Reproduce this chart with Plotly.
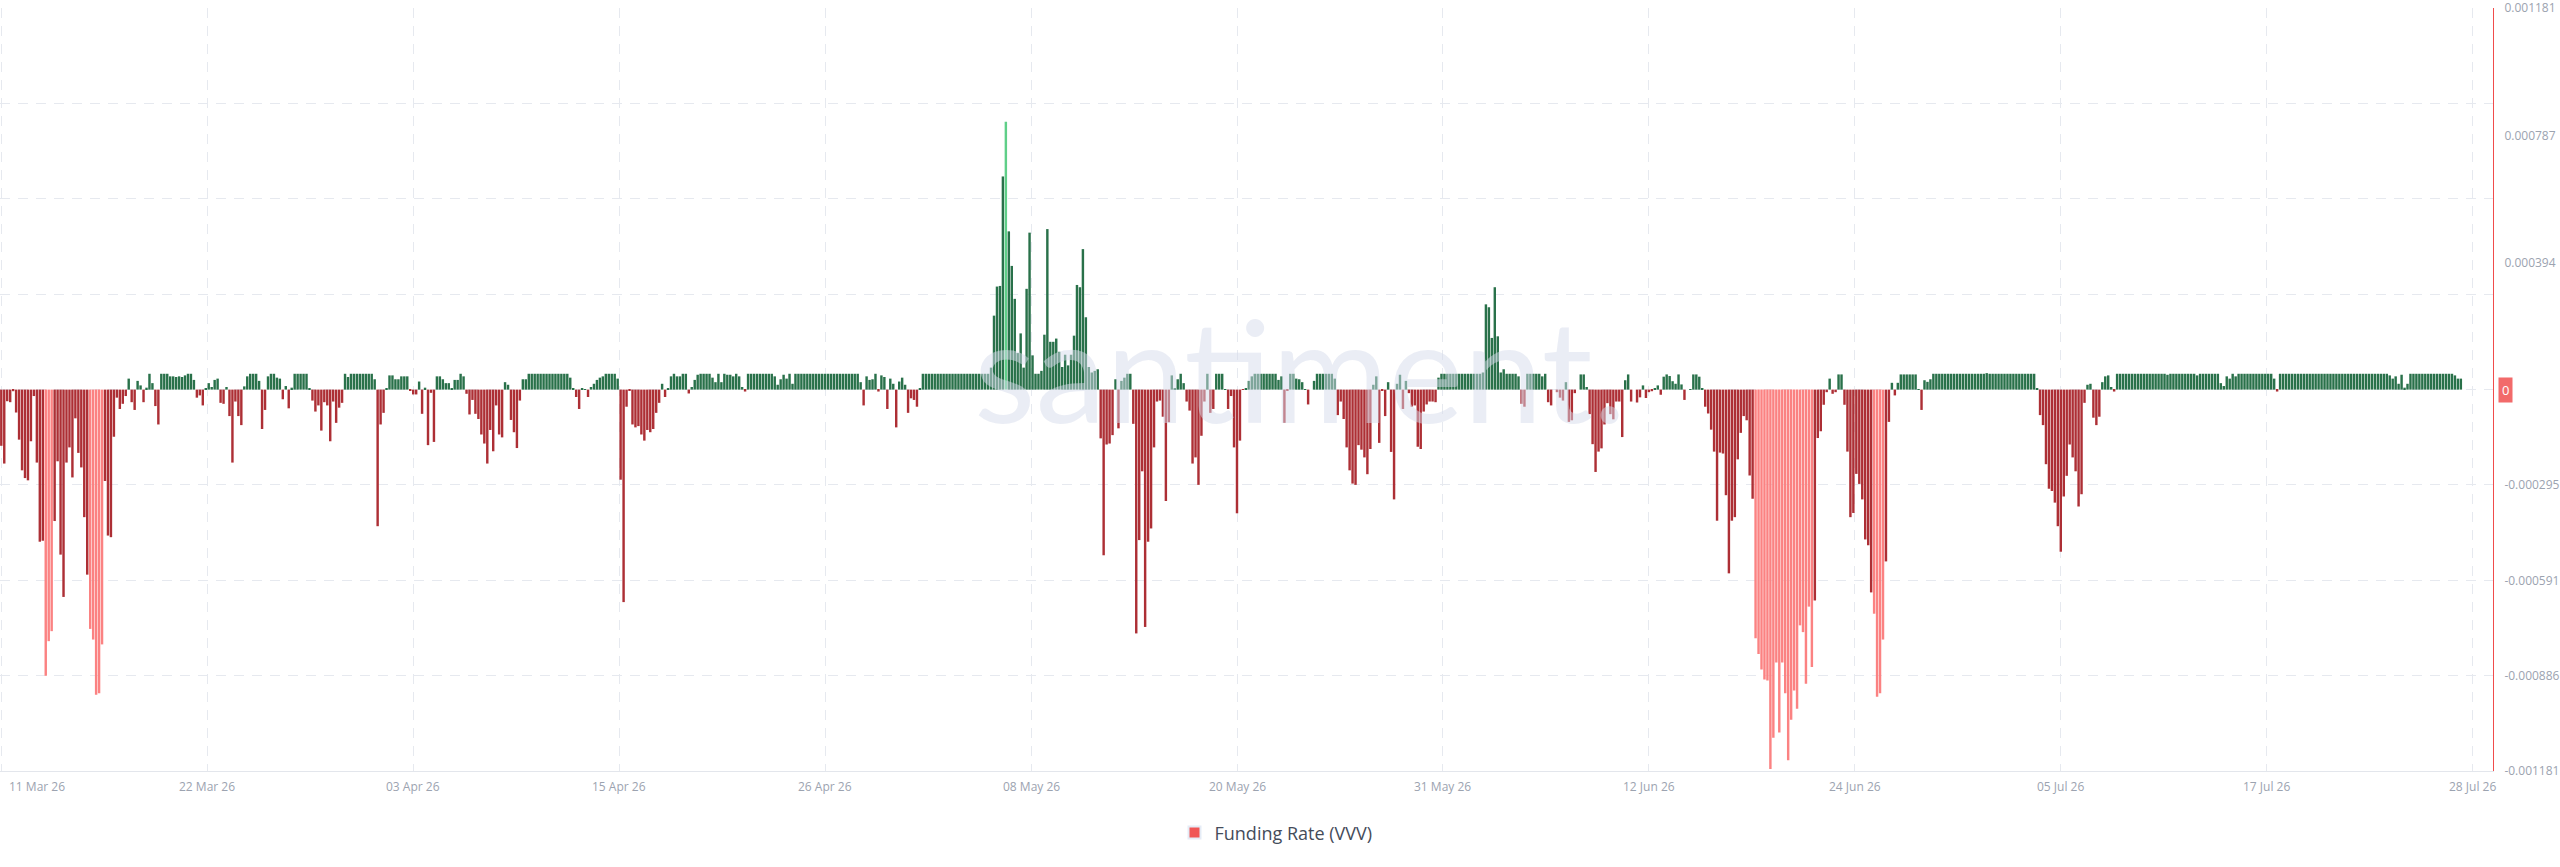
import pandas as pd
import plotly.graph_objects as go

# ---------------- data (funding rate, in millionths) ----------------
FUNDING_RATE_MICRO = [
    # 11 Mar - 15 Mar
    -174, -229, -36, -39, -5, -71, -155, -250, -274, -281,
    -160, -20, -226, -471, -468, -886, -779, -748, -407, -222,
    -511, -642, -226, -179, -272, -89, -196, -241, -395, -573,
    -741, -774, -945, -940, -789, -283, -452, -457, -146, -25,
    -60, -44, -20, 34, -39, -63, 27, 13, -39, 6,
    49, 20, -51, -108, 49, 49, 49, 41, 41, 39,
    41, 39, 44, 49, 49, 30, -25, -18, -49, 2,
    20, 8, 30, 34, -41, -44,
    # crop 2
    8, -82, -226, -37, -82, -110, 10, 41, 49, 49,
    49, 27, -122, -63, 41, 49, 49, 37, 34, -30,
    11, -58, 6, 49, 49, 49, 49, 49, 5, -34,
    -68, -49, -127, -39, -49, -160, -37, -103, -56, -41,
    49, 39, 49, 49, 49, 49, 49, 49, 49, 49,
    32, -423, -108, -72, 2, 44, 44, 32, 32, 41,
    41, 41, -2, -15, -15, 25, -75, 6, -172, -10,
    -162, 41, 41, 32, 20, 20,
    # crop 3
    2, 30, 30, 49, 41, -13, -77, -32, -75, -91,
    -139, -167, -229, -125, -191, -49, -139, -148, 23, 15,
    -94, -132, -181, -34, 32, 32, 49, 49, 49, 49,
    49, 49, 49, 49, 49, 49, 49, 49, 49, 49,
    37, 3, -23, -60, 5, 1, -23, 8, 18, 30,
    37, 41, 49, 49, 49, 49, 34, -279, -658, -53,
    -2, -108, -117, -113, -139, -158, -125, -132, -122, -72,
    -41, 18, -23, 5, 41, 49,
    # crop 4
    41, 41, 49, 49, -12, 8, 30, 46, 49, 49,
    49, 49, 37, 23, 49, 23, 49, 46, 46, 41,
    49, 41, 8, -6, 49, 49, 49, 49, 49, 49,
    49, 49, 49, 41, 15, 32, 46, 34, 49, 18,
    49, 49, 49, 49, 49, 49, 49, 49, 49, 49,
    49, 49, 49, 49, 49, 49, 49, 49, 49, 49,
    49, 49, 23, -49, 41, 30, 32, 49, -6, 44,
    39, -60, 34, 18, -117,
    # crop 5
    25, 37, 15, -72, -27, -32, -53, 2, 49, 49,
    49, 49, 49, 49, 49, 49, 49, 49, 49, 49,
    49, 49, 49, 49, 49, 49, 49, 49, 49, 49,
    49, 68, 229, 319, 321, 660, 829, 490, 383, 281,
    113, 174, 68, 312, 486, 106, 49, 49, 58, 170,
    497, 148, 148, 158, 117, 70, 108, 75, 108, 167,
    324, 317, 435, 224, 70, 53, 58, 63, -151, -513,
    -170, -167, -141, 32, -120,
    # crop 6
    27, 37, 49, 49, -106, -755, -466, -253, -735, -471,
    -430, -179, -37, -34, -84, -345, -101, 44, 3, 32,
    49, 20, -37, -65, -229, -210, -295, -143, -37, 49,
    -72, -60, 49, 49, 49, 1, -60, -20, -179, -383,
    -158, -1, 5, 27, 41, 49, 49, 49, 49, 49,
    49, 49, 49, 30, 41, -103, -2, 49, 49, 34,
    32, 23, 1, -46, 0, 27, 49, 49, 49, 49,
    49, 49, 34, -79, -37,
    # crop 7
    -91, -179, -250, -291, -295, -172, -186, -210, -262, -184,
    15, 41, -165, -2, -82, 23, -193, -340, 18, 46,
    -60, 27, -11, -53, -49, -177, -184, -68, -46, -37,
    -37, -39, 37, 49, 49, 49, 49, 49, 49, 49,
    49, 49, 49, 49, 49, 49, 49, 53, 264, 255,
    160, 317, 165, 53, 63, 49, 49, 49, 49, 41,
    -44, -53, 49, 49, 49, 49, 49, 41, 49, -39,
    -49, 0, -8, -25, -34, 23,
    # crop 8
    -100, -95, -11, 0, 47, 47, 8, -76, -169, -255,
    -192, -182, -108, -42, -76, -92, -37, -37, -147, 29,
    47, -37, 0, -40, -24, 13, -26, -8, -5, 3,
    13, -16, 40, 47, 42, 26, 18, 47, 16, -32,
    0, 1, 47, 47, 40, 2, -53, -74, -124, -192,
    -406, -195, -198, -327, -569, -406, -395, -216, -134, -82,
    -95, -266, -338, -770, -819, -867, -898, -901, -1175, -1078,
    -845, -1062, -845, -940, -1148, -1022,
    # crop 9
    -932, -988, -730, -751, -911, -672, -859, -653, -150, -129,
    -47, -8, 34, -13, -8, 47, 47, -47, -192, -395,
    -382, -261, -292, -340, -464, -482, -628, -694, -951, -940,
    -774, -532, -100, 21, -18, 21, 47, 47, 47, 47,
    47, 47, 1, -63, 29, 24, 32, 49, 49, 49,
    49, 49, 49, 49, 49, 49, 49, 49, 49, 49,
    49, 49, 49, 49, 49, 51, 49, 49, 49, 49,
    49, 49, 49, 49, 49, 49,
    # crop 10
    49, 49, 49, 49, 49, 49, 2, -79, -110, -231,
    -307, -314, -350, -423, -502, -331, -267, -170, -210, -253,
    -362, -324, -41, 15, 18, -87, -110, -84, 23, 41,
    44, 8, -6, 49, 49, 49, 49, 49, 49, 49,
    49, 49, 49, 49, 49, 49, 49, 49, 49, 49,
    46, 49, 49, 49, 49, 49, 49, 49, 49, 49,
    44, 49, 49, 49, 49, 49, 49, 49, 20, 11,
    41, 34, 49, 41, 49, 49,
    # crop 11
    49, 49, 49, 49, 49, 49, 49, 49, 49, 49,
    34, -6, 49, 49, 49, 49, 49, 49, 49, 49,
    49, 49, 49, 49, 49, 49, 49, 49, 49, 49,
    49, 49, 49, 49, 49, 49, 49, 49, 49, 49,
    49, 49, 49, 49, 49, 49, 49, 49, 49, 44,
    34, 41, 18, 46, 6, 18, 49, 49, 49, 49,
    49, 49, 49, 49, 49, 49, 49, 49, 49, 49,
    49, 44, 34, 34,
]
RATE_UNIT = 1e-6
SERIES_START = "2026-03-11 20:00"
SERIES_FREQ = "4h"

X_TICK_LABELS = ["11 Mar 26", "22 Mar 26", "03 Apr 26", "15 Apr 26", "26 Apr 26",
                 "08 May 26", "20 May 26", "31 May 26", "12 Jun 26", "24 Jun 26",
                 "05 Jul 26", "17 Jul 26", "28 Jul 26"]
X_TICK_FIRST = "2026-03-11 20:00"
X_TICK_LAST = "2026-07-28 20:00"

Y_MAX = 0.001181
Y_TICK_VALUES = [0.001181, 0.000787, 0.000394, 0.0, -0.000295, -0.000591, -0.000886, -0.001181]
Y_TICK_LABELS = ["0.001181", "0.000787", "0.000394", "0", "-0.000295", "-0.000591", "-0.000886", "-0.001181"]
Y_GRID_VALUES = [0.001181, 0.000886, 0.000591, 0.000295, 0.0, -0.000295, -0.000591, -0.000886]

SERIES_NAME = "Funding Rate (VVV)"

# ---------------- styling ----------------
GREEN_DARK = "#29714a"
GREEN_LIGHT = "#5fcf88"
RED_DARK = "#ad2f35"
RED_LIGHT = "#fb8282"
LEGEND_RED = "#f05656"
AXIS_RED = "#f04c4c"
GRID = "#e6e9ef"
TICK_GRAY = "#9ca3b0"
FONT = "Open Sans"

rates = [v * RATE_UNIT for v in FUNDING_RATE_MICRO]
times = pd.date_range(SERIES_START, periods=len(rates), freq=SERIES_FREQ)

# bars in sustained deep-negative stretches are drawn in a lighter tone
local_depth = pd.Series([abs(v) for v in rates]).rolling(5, center=True, min_periods=1).mean()


def bar_color(v, depth):
    if v >= 0:
        return GREEN_LIGHT if v >= 0.0007 else GREEN_DARK
    return RED_LIGHT if (v <= -0.00066 and depth > 0.0006) else RED_DARK


colors = [bar_color(v, d) for v, d in zip(rates, local_depth)]

tick_times = pd.date_range(X_TICK_FIRST, X_TICK_LAST, periods=len(X_TICK_LABELS))

fig = go.Figure()
fig.add_trace(go.Bar(
    x=times, y=rates, marker=dict(color=colors, line=dict(width=0)),
    showlegend=False, hoverinfo="x+y",
))
fig.add_trace(go.Bar(
    x=[None], y=[None], name=SERIES_NAME, marker=dict(color=LEGEND_RED),
    showlegend=True,
))

x_left = pd.Timestamp(SERIES_START) - pd.Timedelta(hours=1.75)
x_right = pd.Timestamp(X_TICK_LAST) + pd.Timedelta(hours=27.4)

fig.update_layout(
    width=2560, height=867,
    margin=dict(l=0, r=67, t=8, b=96),
    paper_bgcolor="white", plot_bgcolor="white",
    bargap=0.18,
    font=dict(family=FONT, color=TICK_GRAY, size=12),
    showlegend=True,
    legend=dict(orientation="h", x=1276 / 2493, xanchor="center", y=-0.081, yanchor="middle",
                font=dict(size=18, color="#454c5a", family=FONT), itemsizing="constant"),
    xaxis=dict(
        type="date", range=[x_left, x_right],
        tickmode="array", tickvals=list(tick_times), ticktext=[""] * len(tick_times),
        showticklabels=False, ticks="",
        showgrid=True, gridcolor=GRID, griddash="10px,8px", gridwidth=1,
        showline=True, linecolor="#e3e6ec", linewidth=1,
        zeroline=False,
    ),
    yaxis=dict(
        side="right", range=[-Y_MAX, Y_MAX * 1.0005],
        tickmode="array", tickvals=Y_TICK_VALUES,
        ticktext=[t if t != "0" else " " for t in Y_TICK_LABELS],
        tickfont=dict(size=12, color=TICK_GRAY, family=FONT),
        ticks="", ticklabelstandoff=8, ticklabeloverflow="allow",
        showgrid=False, zeroline=False,
        showline=True, linecolor=AXIS_RED, linewidth=1,
        minor=dict(tickmode="array", tickvals=Y_GRID_VALUES, showgrid=True,
                   gridcolor=GRID, griddash="10px,8px", gridwidth=1, ticks=""),
    ),
)

annotations = []
# watermark
annotations.append(dict(
    text="santiment.", xref="paper", yref="paper", x=1300 / 2493, y=0.528,
    xanchor="center", yanchor="middle", showarrow=False,
    font=dict(family="Lato", size=142, color="rgba(214,220,236,0.5)"),
))
# x tick labels
for i, (t, lab) in enumerate(zip(tick_times, X_TICK_LABELS)):
    annotations.append(dict(
        text=lab, x=t, xref="x", y=0, yref="paper", yshift=-15,
        xanchor="left" if i == 0 else "center", xshift=6 if i == 0 else 0,
        yanchor="middle", showarrow=False,
        font=dict(size=12, color=TICK_GRAY, family=FONT),
    ))
# zero marker label
annotations.append(dict(
    text="0", x=1, xref="paper", y=0, yref="y", xanchor="left", xshift=5,
    yanchor="middle", showarrow=False, bgcolor="#f26a6a", borderpad=3,
    font=dict(size=13, color="white", family=FONT),
))
fig.update_layout(annotations=annotations)

fig.write_html("out.html")
